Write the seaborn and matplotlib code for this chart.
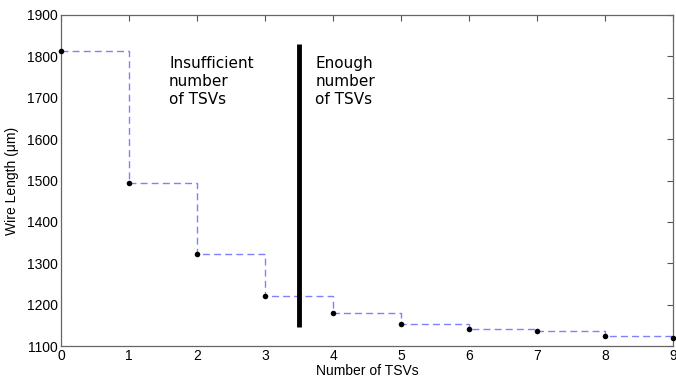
import matplotlib
matplotlib.use("Agg")
import matplotlib.pyplot as plt
import seaborn as sns
import pandas as pd

num_tsvs = [0, 1, 2, 3, 4, 5, 6, 7, 8, 9]
wire_length = [1814, 1494, 1323, 1222, 1180, 1154, 1140, 1136, 1123, 1120]
divider_x = 3.5
divider_range = [1145, 1831]
label_left = "Insufficient\nnumber\nof TSVs"
label_right = "Enough\nnumber\nof TSVs"

sns.set_style("white")
plt.rcParams['font.family'] = ['Liberation Sans', 'DejaVu Sans']
plt.rcParams['text.color'] = 'black'
plt.rcParams['axes.labelcolor'] = 'black'
plt.rcParams['xtick.color'] = 'black'
plt.rcParams['ytick.color'] = 'black'

df = pd.DataFrame({"n": num_tsvs, "wl": wire_length})

fig = plt.figure(figsize=(6.76, 3.79), dpi=100)
ax = fig.add_axes([61/676, 1 - 346/379, (673-61)/676, (346-15)/379])

sns.lineplot(data=df, x="n", y="wl", ax=ax, drawstyle="steps-post",
             color="#8080ff", linestyle=(0, (5, 3)), linewidth=1.0)
sns.scatterplot(data=df, x="n", y="wl", ax=ax, color="black", s=16,
                edgecolor="black", linewidth=0, zorder=5, clip_on=False)
ax.plot([divider_x, divider_x], divider_range, color="black", linewidth=3.5,
        solid_capstyle="butt")

ax.text(1.59, 1802, label_left, family=['DejaVu Sans'], fontsize=11,
        va="top", ha="left", linespacing=1.28, color="black")
ax.text(3.74, 1802, label_right, family=['DejaVu Sans'], fontsize=11,
        va="top", ha="left", linespacing=1.28, color="black")

ax.set_xlim(0, 9)
ax.set_ylim(1100, 1900)
ax.set_xticks(range(0, 10))
ax.set_yticks(range(1100, 2000, 100))
ax.set_xlabel("Number of TSVs", fontsize=10, labelpad=1)
ax.set_ylabel("Wire Length (\u03bcm)", fontsize=10, labelpad=6)
ax.tick_params(direction="in", length=4, width=0.8, color="#555555",
               labelcolor="black", labelsize=10, top=True, right=True, pad=2)
for s in ax.spines.values():
    s.set_color("#666666")
    s.set_linewidth(0.9)
    s.set_visible(True)

fig.savefig("out.png", dpi=100)
